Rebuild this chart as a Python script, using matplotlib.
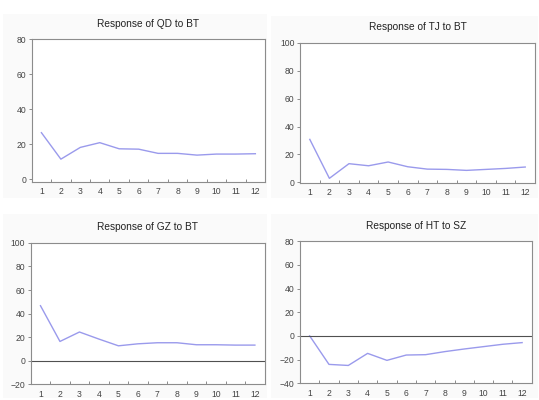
import matplotlib
matplotlib.use("Agg")
import matplotlib.pyplot as plt
from matplotlib.patches import Rectangle

plt.rcParams['font.family'] = ['Liberation Sans', 'DejaVu Sans']

periodos = list(range(1, 13))
qd_bt = [26.7, 11.6, 18.3, 21.0, 17.5, 17.3, 14.9, 14.9, 13.9, 14.5, 14.5, 14.7]
tj_bt = [30.8, 2.9, 13.4, 11.9, 14.6, 11.2, 9.5, 9.3, 8.6, 9.3, 10.0, 11.0]
gz_bt = [46.7, 16.4, 24.4, 18.4, 12.7, 14.4, 15.3, 15.3, 13.6, 13.6, 13.3, 13.3]
ht_sz = [0.0, -24.1, -25.0, -14.8, -20.7, -16.2, -15.9, -13.3, -11.1, -9.1, -7.1, -5.7]

titulos = ["Response of QD to BT", "Response of TJ to BT",
           "Response of GZ to BT", "Response of HT to SZ"]
series = [qd_bt, tj_bt, gz_bt, ht_sz]
y_ticks = [[0, 20, 40, 60, 80], [0, 20, 40, 60, 80, 100],
           [-20, 0, 20, 40, 60, 80, 100], [-40, -20, 0, 20, 40, 60, 80]]
y_lims = [(-1.2, 80), (-0.3, 100), (-20, 100), (-40, 80)]

# posiciones de cada panel en fraccion de figura [izq, abajo, ancho, alto]
cajas = [[0.0588, 0.546, 0.433, 0.356],
         [0.5566, 0.543, 0.436, 0.350],
         [0.0570, 0.039, 0.434, 0.354],
         [0.5566, 0.042, 0.430, 0.355]]
fondos = [[0.005, 0.505, 0.49, 0.46], [0.503, 0.505, 0.495, 0.455],
          [0.005, 0.005, 0.49, 0.46], [0.503, 0.005, 0.495, 0.46]]

color_linea = '#9a9aec'
color_eje = '#8c8c8c'

fig = plt.figure(figsize=(5.39, 4.0), dpi=100)
fig.patch.set_facecolor('white')
for f in fondos:
    fig.add_artist(Rectangle((f[0], f[1]), f[2], f[3], transform=fig.transFigure,
                             facecolor='#fafafa', edgecolor='none', zorder=-5))

for caja, titulo, datos, yt, yl in zip(cajas, titulos, series, y_ticks, y_lims):
    ax = fig.add_axes(caja)
    ax.set_zorder(5)
    ax.set_facecolor('white')
    ax.plot(periodos, datos, color=color_linea, lw=1.0)
    if yt[0] < 0:  # linea de cero solo cuando el eje incluye negativos
        ax.axhline(0, color='#505050', lw=0.8)
    ax.set_xlim(0.5, 12.5)
    ax.set_ylim(*yl)
    ax.set_yticks(yt)
    ax.set_xticks(periodos)
    ax.set_xticks([p + 0.5 for p in periodos[:-1]], minor=True)
    ax.tick_params(axis='x', which='major', length=0, labelsize=6.2, colors='#444444', pad=4)
    ax.tick_params(axis='x', which='minor', direction='in', length=2.5, color=color_eje, width=0.7)
    ax.tick_params(axis='y', direction='out', length=2.5, labelsize=6.2, colors='#444444',
                   pad=1.5, width=0.7)
    ax.tick_params(axis='y', color=color_eje)
    for lado in ax.spines.values():
        lado.set_color(color_eje)
        lado.set_linewidth(0.8)
    ax.set_title(titulo, fontsize=7.3, color='#222222', pad=9)

fig.savefig("out.png", dpi=100)
